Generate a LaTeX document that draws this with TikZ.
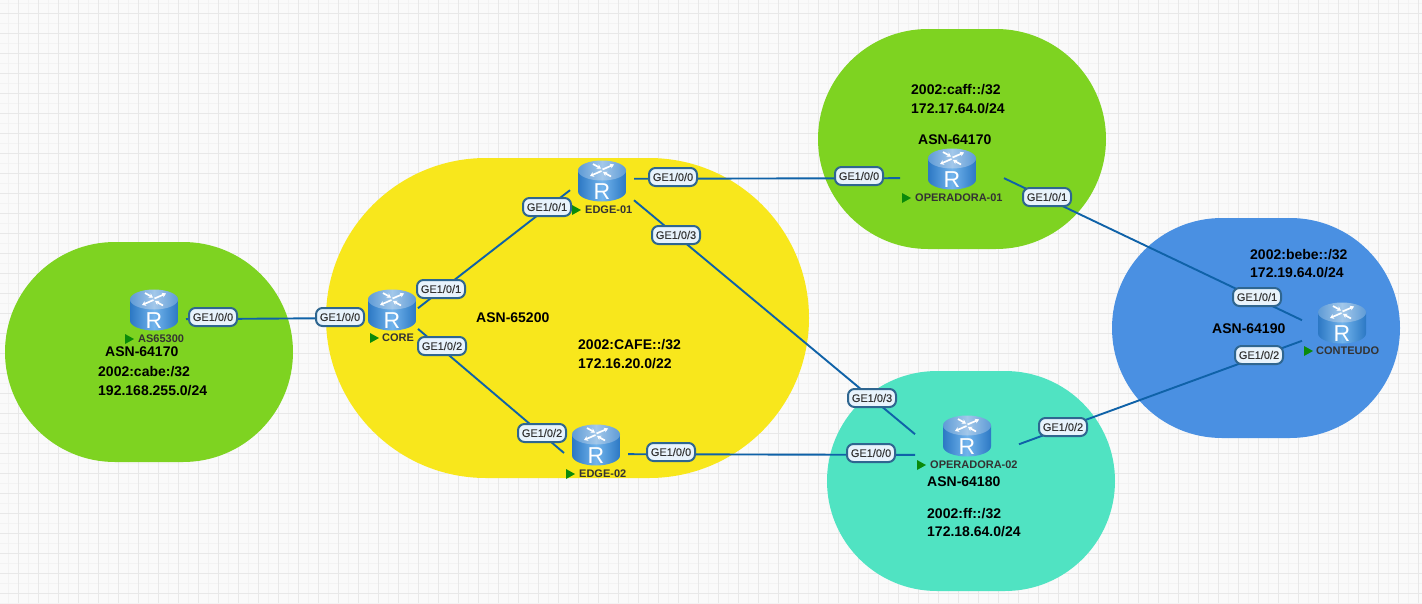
\documentclass[tikz,border=0pt]{standalone}
\usepackage{fontspec}
\setmainfont{Liberation Sans}
\newfontfamily\portfont[FakeBold=0.2]{Liberation Sans}
\usetikzlibrary{arrows.meta}
\definecolor{gridminor}{HTML}{F3F3F3}
\definecolor{gridmajor}{HTML}{E8E8E8}
\definecolor{zonegreen}{HTML}{7ED321}
\definecolor{zoneyellow}{HTML}{F8E71C}
\definecolor{zoneteal}{HTML}{50E3C2}
\definecolor{zoneblue}{HTML}{4A90E2}
\definecolor{linkblue}{HTML}{0F62A8}
\definecolor{portedge}{HTML}{2F6690}
\definecolor{portfill}{HTML}{E8F3FC}
\definecolor{bodyedge}{HTML}{2C78C4}
\definecolor{bodymid}{HTML}{72B4EC}
\definecolor{topedge}{HTML}{5F9BD6}
\definecolor{topmid}{HTML}{A3C8EA}
\definecolor{runtri}{HTML}{0A8A0A}
\definecolor{labgray}{HTML}{333333}
\tikzset{
  zone/.style={rectangle,rounded corners=#1,inner sep=0pt,outer sep=0pt},
  routerbox/.style={rectangle,minimum width=2*#1,minimum height=48pt,inner sep=0pt,outer sep=0pt},
  link/.style={draw=linkblue,line width=1.9pt},
  port/.style={rectangle,rounded corners=6.5pt,draw=portedge,line width=2pt,fill=portfill,
    minimum width=48pt,minimum height=18pt,inner sep=0pt,text=labgray,
    font=\fontsize{11}{13}\selectfont\portfont},
  info/.style={anchor=west,inner sep=0pt,yshift=-1pt,text=black,font=\fontsize{14}{16}\selectfont\bfseries},
  devname/.style={anchor=west,inner sep=0pt,text=labgray,font=\fontsize{11}{12}\selectfont\bfseries},
  rtrarrow/.style={white,line width=1.7pt,-{Stealth[length=4pt,width=5pt]}},
}
\newcommand{\routerpic}[1]{%
  \begin{scope}[shift={(#1)}]
    \shade[left color=bodyedge,right color=bodyedge,middle color=bodymid]
      (-24,-10.5) -- (-24,10.5) .. controls (-24,16) and (-13,20.5) .. (0,20.5)
      .. controls (13,20.5) and (24,16) .. (24,10.5) -- (24,-10.5) -- cycle;
    \shade[left color=topedge,right color=topedge,middle color=topmid]
      (0,-10.5) ellipse [x radius=24,y radius=10];
    \draw[rtrarrow] (-9,-17) -- (-1,-12.5);
    \draw[rtrarrow] (9,-4.5) -- (1,-9);
    \draw[rtrarrow] (0.5,-11.5) -- (12,-16.5);
    \draw[rtrarrow] (-0.5,-10) -- (-12,-5);
    \node[inner sep=0pt,text=white,font=\fontsize{23}{23}\selectfont] at (0,10.7) {R};
  \end{scope}}
\newcommand{\runmark}[1]{%
  \begin{scope}[shift={(#1)}]
    \fill[runtri] (0,-5) -- (9,0) -- (0,5) -- cycle;
  \end{scope}}
\begin{document}
\begin{tikzpicture}[x=1pt,y=-1pt]
\useasboundingbox (0,0) rectangle (1422,603);
\fill[white!98!black] (0,0) rectangle (1422,603);
% grid
\foreach \gx in {8,28,...,1420} \draw[gridminor,line width=1pt] (\gx,0) -- (\gx,603);
\foreach \gy in {3,23,...,603} \draw[gridminor,line width=1pt] (0,\gy) -- (1422,\gy);
\foreach \gx in {18,38,...,1420} \draw[gridmajor,line width=1pt] (\gx,0) -- (\gx,603);
\foreach \gy in {13,33,...,603} \draw[gridmajor,line width=1pt] (0,\gy) -- (1422,\gy);
% zones
\node[zone=110pt,fill=zonegreen,minimum width=288pt,minimum height=220pt] (zoneas) at (149,352) {};
\node[zone=160pt,fill=zoneyellow,minimum width=483pt,minimum height=320pt] (zonecore) at (567.5,318) {};
\node[zone=110pt,fill=zonegreen,minimum width=288pt,minimum height=220pt] (zoneopa) at (962,139) {};
\node[zone=110pt,fill=zoneteal,minimum width=288pt,minimum height=220pt] (zoneopb) at (971,481) {};
\node[zone=110pt,fill=zoneblue,minimum width=288pt,minimum height=220pt] (zonecont) at (1256,328) {};
% router anchors
\node[routerbox=32pt] (as) at (154,310) {};
\node[routerbox=26pt] (core) at (392,310) {};
\node[routerbox=32pt] (edgea) at (602,181) {};
\node[routerbox=32pt] (edgeb) at (596,445) {};
\node[routerbox=52pt] (opa) at (952,169) {};
\node[routerbox=52pt] (opb) at (967,436) {};
\node[routerbox=40pt] (cont) at (1342,323) {};
% links
\draw[link,shorten >=3pt] (as.-16) -- (core.197);
\draw[link] (core.4) -- (edgea.196);
\draw[link] (core.-36) -- (edgeb.194);
\draw[link] (edgea.4) -- (opa.190);
\draw[link] (edgea.-31) -- (opb.178);
\draw[link] (edgeb.-16) -- (opb.200);
\draw[link] (opa.-10) -- (cont.176);
\draw[link] (opb.-9) -- (cont.204);
% routers
\routerpic{154,310}
\routerpic{392,310}
\routerpic{602,181}
\routerpic{596,445}
\routerpic{952,169}
\routerpic{967,436}
\routerpic{1342,323}
% run marks and device names
\runmark{125,339} \node[devname] (nas) at (138,339) {AS65300};
\runmark{370,338} \node[devname] (ncore) at (382,338) {CORE};
\runmark{572,210} \node[devname] (nedgea) at (585,210) {EDGE-01};
\runmark{566,474} \node[devname] (nedgeb) at (579,474) {EDGE-02};
\runmark{902,198} \node[devname] (nopa) at (915,198) {OPERADORA-01};
\runmark{917,465} \node[devname] (nopb) at (930,465) {OPERADORA-02};
\runmark{1304,351} \node[devname] (ncont) at (1316,351) {CONTEUDO};
% ports
\node[port] (p1) at (213,317) {GE1/0/0};
\node[port] (p2) at (340,317) {GE1/0/0};
\node[port] (p3) at (441,289) {GE1/0/1};
\node[port] (p4) at (442,346) {GE1/0/2};
\node[port] (p5) at (547,207) {GE1/0/1};
\node[port] (p6) at (673,177) {GE1/0/0};
\node[port] (p7) at (676,235) {GE1/0/3};
\node[port] (p8) at (542,433) {GE1/0/2};
\node[port] (p9) at (671,452) {GE1/0/0};
\node[port] (p10) at (872,398) {GE1/0/3};
\node[port] (p11) at (871,453) {GE1/0/0};
\node[port] (p12) at (1063,427) {GE1/0/2};
\node[port] (p13) at (859,176) {GE1/0/0};
\node[port] (p14) at (1047,197) {GE1/0/1};
\node[port] (p15) at (1257,297) {GE1/0/1};
\node[port] (p16) at (1259,355) {GE1/0/2};
% info text
\node[info] (t1) at (105,351) {ASN-64170};
\node[info] (t2) at (98,371) {2002:cabe:/32};
\node[info] (t3) at (98,390) {192.168.255.0/24};
\node[info] (t4) at (476,317) {ASN-65200};
\node[info] (t5) at (578,344) {2002:CAFE::/32};
\node[info] (t6) at (578,363) {172.16.20.0/22};
\node[info] (t7) at (911,89) {2002:caff::/32};
\node[info] (t8) at (911,108) {172.17.64.0/24};
\node[info] (t9) at (918,139) {ASN-64170};
\node[info] (t10) at (927,481) {ASN-64180};
\node[info] (t11) at (927,513) {2002:ff::/32};
\node[info] (t12) at (927,531) {172.18.64.0/24};
\node[info] (t13) at (1250,254) {2002:bebe::/32};
\node[info] (t14) at (1250,272) {172.19.64.0/24};
\node[info] (t15) at (1212,328) {ASN-64190};
\end{tikzpicture}
\end{document}
